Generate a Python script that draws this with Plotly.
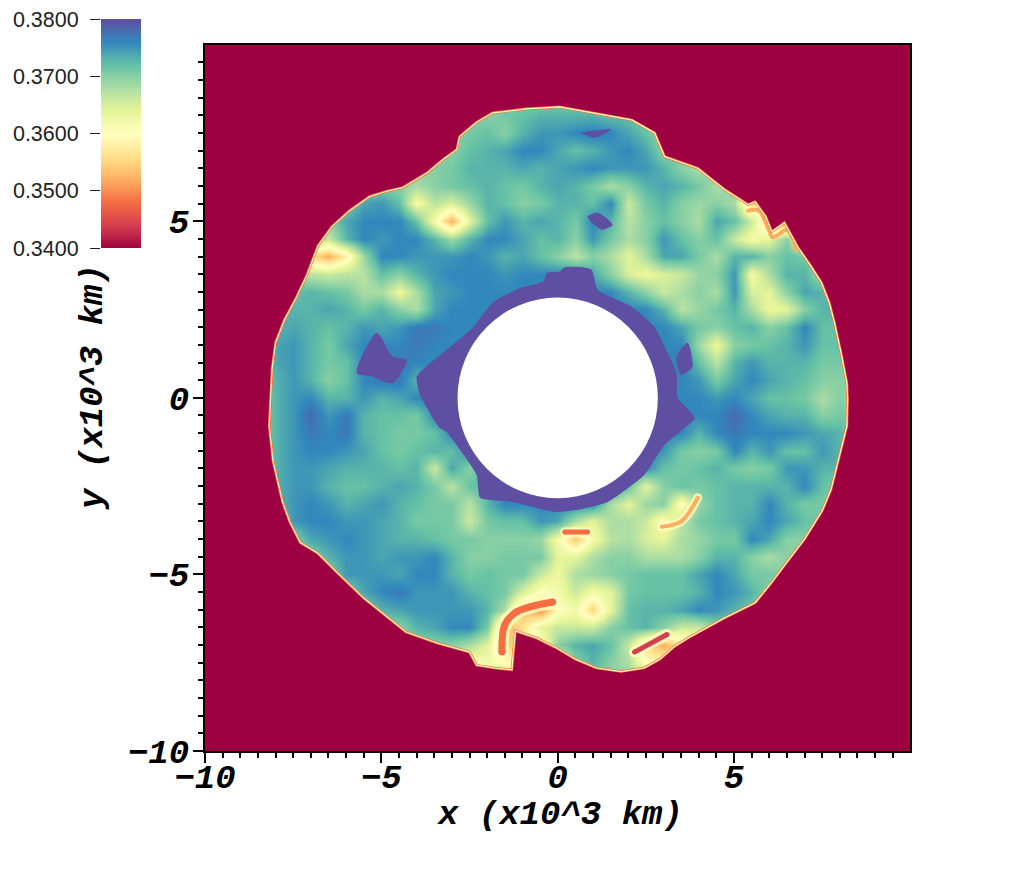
import plotly.graph_objects as go

FILL = 30
X_CELLS = [-9 + 0.5 * i for i in range(37)]
Y_CELLS = [9 - 0.5 * i for i in range(37)]


# one row of the field, level is (value - 0.34) * 1000
def row(first_x, levels):
    before = int((first_x + 9) * 2)
    return [FILL] * before + levels + [FILL] * (37 - before - len(levels))


def hole(n):
    return [36] * n


r_90 = row(-9, [])
r_85 = row(-9, [])
r_80 = row(-1.5, [31, 32, 33, 33, 33, 33, 32, 32])
r_75 = row(-3, [30, 31, 32, 30, 33, 35, 35, 36, 37, 36, 34, 32, 29])
r_70 = row(-3, [30, 32, 33, 34, 36, 36, 34, 32, 33, 35, 36, 34, 30, 30])
r_65 = row(-3.5, [30, 31, 33, 33, 33, 34, 33, 34, 35, 36, 35, 35, 35, 33, 30, 28])
r_60 = row(-4, [28, 30, 31, 32, 33, 32, 31, 33, 34, 33, 31, 28, 30, 33, 34, 33, 31, 28])
r_55 = row(-5.5, [34, 35, 32, 22, 27, 25, 29, 33, 32, 30, 31, 33, 33, 32, 36, 26, 31, 33, 30, 29, 30, 28, 14])
r_50 = row(-6, [34, 36, 36, 36, 32, 22, 12, 24, 32, 35, 33, 34, 33, 31, 36, 33, 27, 30, 32, 30, 28, 34, 32, 26, 14, 10])
r_45 = row(-6.5, [26, 33, 36, 35, 36, 36, 33, 29, 33, 36, 36, 34, 32, 33, 30, 35, 31, 28, 30, 35, 32, 30, 32, 26, 22, 24, 30, 20])
r_40 = row(-7, [16, 12, 18, 29, 36, 36, 35, 35, 35, 36, 35, 33, 34, 32, 30, 27, 30, 28, 24, 28, 34, 34, 31, 28, 33, 33, 30, 32, 31])
r_35 = row(-7.5, [30, 27, 26, 27, 27, 32, 30, 33, 35, 36, 36, 36, 35, 36, 36, 36, 36, 34, 30, 25, 23, 25, 26, 29, 30, 35, 22, 28, 33, 33, 28])
r_30 = row(-7.5, [32, 33, 32, 31, 28, 28, 23, 28, 34, 35, 36, 36, 36, 36, 36, 36, 36, 36, 36, 33, 30, 26, 28, 30, 28, 35, 25, 24, 30, 34, 33])
r_25 = row(-8, [33, 33, 33, 34, 33, 31, 33, 30, 28, 34, 36] + hole(11) + [33, 27, 29, 31, 33, 28, 23, 24, 30, 33, 33])
r_20 = row(-8, [33, 34, 33, 32, 33, 35, 34, 35, 37, 37, 36] + hole(12) + [34, 31, 30, 32, 33, 30, 32, 36, 32, 32])
r_15 = row(-8, [34, 35, 33, 31, 34, 36, 36, 36, 37, 36] + hole(13) + [36, 29, 23, 30, 31, 32, 33, 35, 32, 32])
r_10 = row(-8, [34, 35, 33, 31, 32, 36, 37, 37, 36, 36] + hole(13) + [37, 32, 27, 33, 35, 33, 33, 33, 31, 31])
r_05 = row(-8, [33, 35, 33, 30, 32, 36, 37, 37, 33] + hole(14) + [36, 35, 31, 34, 36, 34, 33, 32, 30, 30])
r_00 = row(-8, [33, 35, 36, 33, 33, 35, 33, 34, 36] + hole(15) + [36, 35, 36, 34, 32, 32, 31, 28, 30])
r_m05 = row(-8, [33, 35, 38, 35, 37, 33, 32, 32, 31, 36] + hole(14) + [36, 36, 38, 36, 34, 33, 33, 30, 31])
r_m10 = row(-8, [33, 35, 37, 36, 37, 33, 32, 31, 31, 32, 36] + hole(11) + [36, 36, 33, 36, 37, 36, 36, 36, 35, 34, 33])
r_m15 = row(-8, [33, 35, 36, 36, 35, 34, 32, 31, 32, 33, 32, 36] + hole(9) + [36, 35, 31, 30, 31, 36, 33, 35, 32, 32, 35, 33])
r_m20 = row(-8, [33, 35, 35, 34, 33, 33, 33, 32, 33, 26, 34, 30, 34] + hole(7) + [36, 36, 32, 31, 32, 33, 31, 30, 31, 35, 35, 33, 33])
r_m25 = row(-8, [33, 35, 35, 33, 32, 32, 33, 34, 33, 31, 27, 32, 32, 36] + hole(6) + [32, 24, 30, 32, 31, 32, 33, 33, 33, 33, 36, 32])
r_m30 = row(-8, [33, 35, 36, 35, 33, 34, 35, 33, 32, 31, 31, 27, 33, 36, 36, 36, 36, 36, 36, 28, 24, 29, 30, 20, 29, 32, 33, 33, 36, 33, 31, 31])
r_m35 = row(-7.5, [35, 36, 36, 35, 35, 34, 33, 31, 31, 31, 26, 31, 32, 32, 35, 34, 28, 24, 28, 28, 26, 20, 27, 31, 32, 33, 34, 36, 34, 32, 31])
r_m40 = row(-7, [34, 35, 36, 35, 34, 33, 33, 32, 31, 31, 30, 30, 30, 29, 22, 14, 22, 27, 28, 25, 24, 28, 29, 31, 31, 36, 34, 30, 30])
r_m45 = row(-6.5, [33, 35, 35, 34, 35, 35, 36, 33, 30, 30, 31, 31, 31, 24, 24, 28, 30, 30, 28, 28, 28, 30, 33, 33, 30, 28, 30])
r_m50 = row(-6, [35, 35, 35, 34, 36, 36, 33, 31, 32, 31, 31, 26, 23, 28, 29, 30, 31, 32, 32, 32, 34, 36, 34, 31, 31])
r_m55 = row(-5.5, [34, 36, 37, 35, 35, 35, 33, 32, 31, 25, 20, 22, 26, 22, 24, 31, 32, 32, 32, 33, 36, 35, 33])
r_m60 = row(-5, [33, 34, 35, 35, 35, 35, 33, 28, 14, 10, 20, 22, 15, 24, 32, 33, 33, 34, 36, 35, 33, 31])
r_m65 = row(-4.5, [30, 33, 34, 36, 36, 31, 12, 16, 24, 26, 26, 26, 30, 32, 33, 30, 26, 26])
r_m70 = row(-3, [30, 28, 24, 14, 16, 20, 30, 33, 34, 32, 26, 16, 12, 16, 20])
r_m75 = row(-2.5, [20, 22, 20, 20, 20, 20, 30, 33, 30, 28, 20, 20])
r_m80 = row(-9, [])
r_m85 = row(-9, [])
r_m90 = row(-9, [])

field_rows = [r_90, r_85, r_80, r_75, r_70, r_65, r_60, r_55, r_50, r_45, r_40, r_35, r_30,
              r_25, r_20, r_15, r_10, r_05, r_00, r_m05, r_m10, r_m15, r_m20, r_m25, r_m30,
              r_m35, r_m40, r_m45, r_m50, r_m55, r_m60, r_m65, r_m70, r_m75, r_m80, r_m85, r_m90]
z = [[0.34 + v / 1000 for v in r] for r in field_rows]

# edge of the gas, clockwise from the top
edge_x = [0.05, 0.85, 2.1, 2.75, 3.03, 3.97, 4.73, 5.4, 5.6, 5.9, 6.07, 6.43, 6.8, 7.2, 7.48, 7.7, 7.85, 8.05, 8.2,
          8.22, 8.2, 7.95, 7.75, 7.5, 7.0, 6.5, 6.05, 5.6, 4.7, 3.7, 3.3, 2.9, 2.45, 1.8, 1.1, 0.5, 0, -0.6, -1.2,
          -1.3, -1.8, -2.3, -2.5, -3.4, -4.3, -4.9, -5.5, -6.2, -6.8, -7.3, -7.6, -7.8, -8.07, -8.18, -8.15, -8.1,
          -8.0, -7.75, -7.4, -7.1, -6.8, -6.4, -5.9, -5.33, -4.85, -4.4, -3.7, -3.25, -2.86, -2.78, -2.3, -1.84,
          -0.9, 0.05]
edge_y = [8.24, 8.1, 7.87, 7.5, 6.83, 6.5, 5.9, 5.47, 5.55, 5.13, 4.7, 4.96, 4.28, 3.7, 3.26, 2.7, 2.12, 1.2, 0.42,
          -0.05, -0.8, -1.8, -2.6, -3.2, -4.0, -4.65, -5.25, -5.8, -6.25, -6.8, -7.05, -7.4, -7.65, -7.75, -7.65,
          -7.4, -7.1, -6.8, -6.6, -7.7, -7.65, -7.57, -7.2, -6.95, -6.63, -6.15, -5.67, -5.0, -4.4, -4.1, -3.5,
          -2.95, -1.8, -0.8, 0, 0.8, 1.56, 2.2, 2.86, 3.5, 4.3, 4.85, 5.3, 5.7, 5.85, 5.95, 6.37, 6.75, 7.03, 7.4,
          7.8, 8.07, 8.18, 8.24]
box_x = [-10, 10, 10, -10, -10]
box_y = [-10, -10, 10, 10, -10]

# saturated purple around the hole and the separate patches
ring_x = [0.2, 0.57, 0.96, 1.13, 2.1, 2.75, 3.12, 3.37, 3.4, 3.88, 3.03, 2.46, 1.42, 0.57, -0.08, -1.27, -2.2, -2.3,
          -3.15, -3.35, -3.9, -4.0, -3.5, -3.15, -2.4, -1.84, -1.08, -0.4, -0.3, 0.05, 0.2]
ring_y = [3.7, 3.71, 3.63, 3.06, 2.58, 2.0, 1.27, 0.7, 0.0, -0.57, -1.33, -2.18, -2.95, -3.17, -3.23, -2.95, -2.83,
          -2.18, -0.97, -0.85, 0.08, 0.6, 1.08, 1.36, 2.0, 2.7, 3.1, 3.3, 3.54, 3.57, 3.7]
patch_x = [-5.7, -5.13, -4.67, -4.28, -4.67, -5.24, -5.7, None, 3.37, 3.68, 3.82, 3.5, 3.37, None,
           0.68, 1.53, 1.05, 0.68, None, 0.85, 1.13, 1.56, 1.25, 0.85]
patch_y = [0.7, 1.84, 1.16, 1.07, 0.42, 0.6, 0.7, None, 1.16, 1.56, 0.88, 0.65, 1.16, None,
           7.5, 7.6, 7.37, 7.5, None, 5.13, 5.24, 4.9, 4.76, 5.13]

# hot filaments, a pale halo under a warm core
fil_ridge_x, fil_ridge_y = [-0.14, -1.16, -1.5, -1.58], [-5.78, -6.06, -6.43, -7.2]
fil_lens_x, fil_lens_y = [2.18, 3.1], [-7.2, -6.7]
fil_arc_x, fil_arc_y = [2.95, 3.5, 3.97], [-3.65, -3.5, -2.83]
fil_low_x, fil_low_y = [0.2, 0.85], [-3.8, -3.8]
fil_bump_x, fil_bump_y = [5.4, 5.7, 5.95, 6.1, 6.5, 6.75], [5.3, 5.3, 4.85, 4.55, 4.75, 4.2]
filaments = [(fil_ridge_x, fil_ridge_y, "#f46d43", 7, 14), (fil_lens_x, fil_lens_y, "#d53e4f", 5, 11),
             (fil_arc_x, fil_arc_y, "#fdae61", 4, 9), (fil_low_x, fil_low_y, "#f46d43", 5, 9),
             (fil_bump_x, fil_bump_y, "#fdae61", 4, 4)]

HOLE_R = 2.84
cbar_levels = [0.34 + 0.001 * i for i in range(41)]
cbar_ticks = [0.34, 0.35, 0.36, 0.37, 0.38]

spectral = ["#9e0142", "#d53e4f", "#f46d43", "#fdae61", "#fee08b", "#ffffbf",
            "#e6f598", "#abdda4", "#66c2a5", "#3288bd", "#5e4fa2"]
colorscale = [[i / 10, c] for i, c in enumerate(spectral)]
CRIMSON = spectral[0]
mono = dict(family="Liberation Mono", size=34, color="black", weight="bold", style="italic")
W, H = 1024, 883

fig = go.Figure()
fig.add_trace(go.Heatmap(x=X_CELLS, y=Y_CELLS, z=z, zmin=0.34, zmax=0.38, colorscale=colorscale,
                         zsmooth="best", showscale=False))
for fx, fy, core, core_w, halo_w in filaments:
    fig.add_trace(go.Scatter(x=fx, y=fy, mode="lines+markers", line=dict(color="#ffffbf", width=halo_w, shape="spline"),
                             marker=dict(color="#ffffbf", size=halo_w), opacity=0.8, showlegend=False))
    fig.add_trace(go.Scatter(x=fx, y=fy, mode="lines+markers", line=dict(color=core, width=core_w, shape="spline"),
                             marker=dict(color=core, size=core_w), showlegend=False))
fig.add_trace(go.Scatter(x=patch_x, y=patch_y, mode="lines", line=dict(width=0, shape="spline", smoothing=0.7),
                         fill="toself", fillcolor="#5e4fa2", showlegend=False))
fig.add_trace(go.Scatter(x=ring_x, y=ring_y, mode="lines", line=dict(width=0, shape="spline", smoothing=0.5),
                         fill="toself", fillcolor="#5e4fa2", showlegend=False))
fig.add_trace(go.Scatter(x=box_x + edge_x + [box_x[0]], y=box_y + edge_y + [box_y[0]], mode="lines",
                         line=dict(width=0), fill="toself", fillcolor=CRIMSON, showlegend=False))
fig.add_trace(go.Scatter(x=edge_x, y=edge_y, mode="lines", line=dict(color="#f46d43", width=2.6), showlegend=False))
fig.add_trace(go.Scatter(x=edge_x, y=edge_y, mode="lines", line=dict(color="#ffffbf", width=1.2), showlegend=False))
fig.add_trace(go.Heatmap(x=[0, 1], y=cbar_levels, z=[[v, v] for v in cbar_levels], zmin=0.34, zmax=0.38,
                         colorscale=colorscale, zsmooth="best", showscale=False, xaxis="x2", yaxis="y2"))

fig.add_shape(type="circle", x0=-HOLE_R, x1=HOLE_R, y0=-HOLE_R, y1=HOLE_R, fillcolor="white", line_width=0)
fig.add_annotation(text="y (x10^3 km)", xref="paper", yref="paper", x=93 / W, y=1 - 387 / H, textangle=-90,
                   xanchor="center", yanchor="middle", showarrow=False, font=mono)
fig.add_annotation(text="x (x10^3 km)", xref="paper", yref="paper", x=560 / W, y=1 - 815 / H,
                   xanchor="center", yanchor="middle", showarrow=False, font=mono)

axis = dict(range=[-10, 9.99], tick0=-10, dtick=5, ticks="outside", ticklen=10, tickwidth=2, tickcolor="black",
            showgrid=False, zeroline=False, showline=True, linecolor="black", linewidth=2, mirror=True,
            automargin=False, tickfont=mono,
            minor=dict(dtick=0.5, ticks="outside", ticklen=5, tickwidth=2, tickcolor="black", showgrid=False))
fig.update_layout(
    template="none", width=W, height=H, margin=dict(l=0, r=0, t=0, b=0, pad=0),
    paper_bgcolor="white", plot_bgcolor=CRIMSON,
    xaxis=dict(axis, domain=[205 / W, 910 / W], ticklabelstandoff=-16),
    yaxis=dict(axis, domain=[1 - 751 / H, 1 - 45 / H], ticklabelstandoff=-3),
    xaxis2=dict(domain=[101 / W, 141 / W], anchor="y2", range=[0, 1], visible=False),
    yaxis2=dict(domain=[1 - 248 / H, 1 - 19 / H], anchor="x2", range=[0.34, 0.38], side="left", tickvals=cbar_ticks,
                tickformat=".4f", ticks="outside", ticklen=10, tickwidth=1, tickcolor="#222", showgrid=False,
                zeroline=False, automargin=False, ticklabelstandoff=7,
                tickfont=dict(family="Liberation Sans", size=21.5, color="#222")),
)
fig.write_html("out.html", config=dict(displayModeBar=False), post_script="document.body.style.margin='0';")
